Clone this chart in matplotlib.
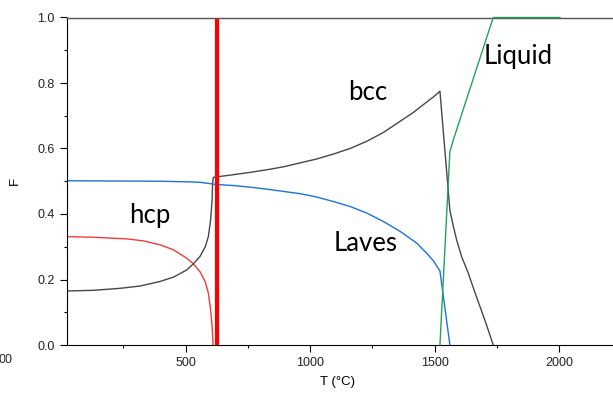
import numpy as np
import matplotlib
matplotlib.use('Agg')
import matplotlib.pyplot as plt
from matplotlib.ticker import MultipleLocator, FormatStrFormatter

plt.rcParams['font.family'] = ['Liberation Sans', 'DejaVu Sans']

# ====================================
# Phase fractions
# ====================================
# hcp
T_hcp = [22, 129, 263, 330, 397, 450, 504, 531, 557, 578, 591, 600, 606, 610]
F_hcp = [0.331, 0.329, 0.324, 0.318, 0.306, 0.291, 0.265, 0.248, 0.224,
         0.194, 0.158, 0.107, 0.056, 0.0]

# bcc
T_bcc = [22, 129, 236, 316, 397, 450, 504, 531, 557, 578, 591, 600, 606, 608,
         611, 691, 758, 825, 892, 959, 1026, 1093, 1160, 1227, 1294, 1361,
         1414, 1468, 1494, 1521, 1561, 1575, 1588, 1608, 1635, 1658, 1682,
         1706, 1735]
F_bcc = [0.165, 0.167, 0.173, 0.180, 0.194, 0.207, 0.229, 0.248, 0.270,
         0.299, 0.331, 0.382, 0.443, 0.494, 0.512, 0.520, 0.527, 0.535,
         0.544, 0.556, 0.568, 0.583, 0.600, 0.622, 0.649, 0.683, 0.710,
         0.742, 0.757, 0.775, 0.411, 0.362, 0.321, 0.270, 0.219, 0.168,
         0.117, 0.066, 0.0]

# Laves
T_lav = [22, 400, 517, 557, 584, 624, 691, 758, 825, 892, 959, 1026, 1093,
         1160, 1227, 1294, 1361, 1428, 1468, 1494, 1521, 1561]
F_lav = [0.5015, 0.500, 0.498, 0.497, 0.494, 0.490, 0.487, 0.482, 0.476,
         0.469, 0.462, 0.452, 0.438, 0.423, 0.403, 0.377, 0.347, 0.311,
         0.280, 0.258, 0.226, 0.0]

# Liquid
T_liq = [1521, 1561, 1575, 1735, 2003]
F_liq = [0.0, 0.591, 0.627, 1.0, 1.0]

T_mark = 624

# ====================================
# Figure
# ====================================
fig = plt.figure(figsize=(6.13, 3.95), dpi=100)
ax = fig.add_axes([66.7/613, 50/395, 567.2/613, 327.5/395])

lw = 1.0
ax.plot(T_hcp, F_hcp, color='#ee3b3b', lw=lw)
ax.plot(T_bcc, F_bcc, color='#474747', lw=lw)
ax.plot(T_lav, F_lav, color='#1f70e0', lw=lw)
ax.plot(T_liq, F_liq, color='#23a35a', lw=lw, clip_on=False, zorder=3)
ax.axvline(T_mark, color='#ff0000', lw=3.0)

ax.set_xlim(22, 2300)
ax.set_ylim(0, 1.0)

ax.set_xticks([500, 1000, 1500, 2000])
ax.xaxis.set_minor_locator(MultipleLocator(250))
ax.yaxis.set_major_locator(MultipleLocator(0.2))
ax.yaxis.set_minor_locator(MultipleLocator(0.1))
ax.yaxis.set_major_formatter(FormatStrFormatter('%.1f'))

ax.tick_params(which='major', direction='out', length=5, width=0.8,
               labelsize=9, colors='black', labelcolor='#222222')
ax.tick_params(which='minor', direction='out', length=2.5, width=0.8)

ax.spines['right'].set_visible(False)
ax.spines['top'].set_color('#555555')
ax.spines['top'].set_linewidth(1.0)

ax.set_xlabel('T (°C)', fontsize=9.5)
ax.set_ylabel('F', fontsize=9.5, labelpad=12)
ax.xaxis.set_label_coords((338 - 66.7) / 567.2, -0.095)

# ====================================
# Phase labels
# ====================================
lab = dict(family=['Lato', 'DejaVu Sans'], fontsize=18.5, ha='center', va='baseline')
def put(text, px, py):
    fig.text(px/613, 1 - py/395, text, **lab)

put('hcp', 149.7, 223.3)
put('bcc', 368, 100)
put('Laves', 365.3, 250.7)
put('Liquid', 518.5, 64)

# label from the neighbouring panel at the left edge
fig.text(12.5/613, 1 - 360/395, '00', ha='right', va='center', fontsize=9,
         color='#222222')

fig.savefig('out.png', dpi=100)
